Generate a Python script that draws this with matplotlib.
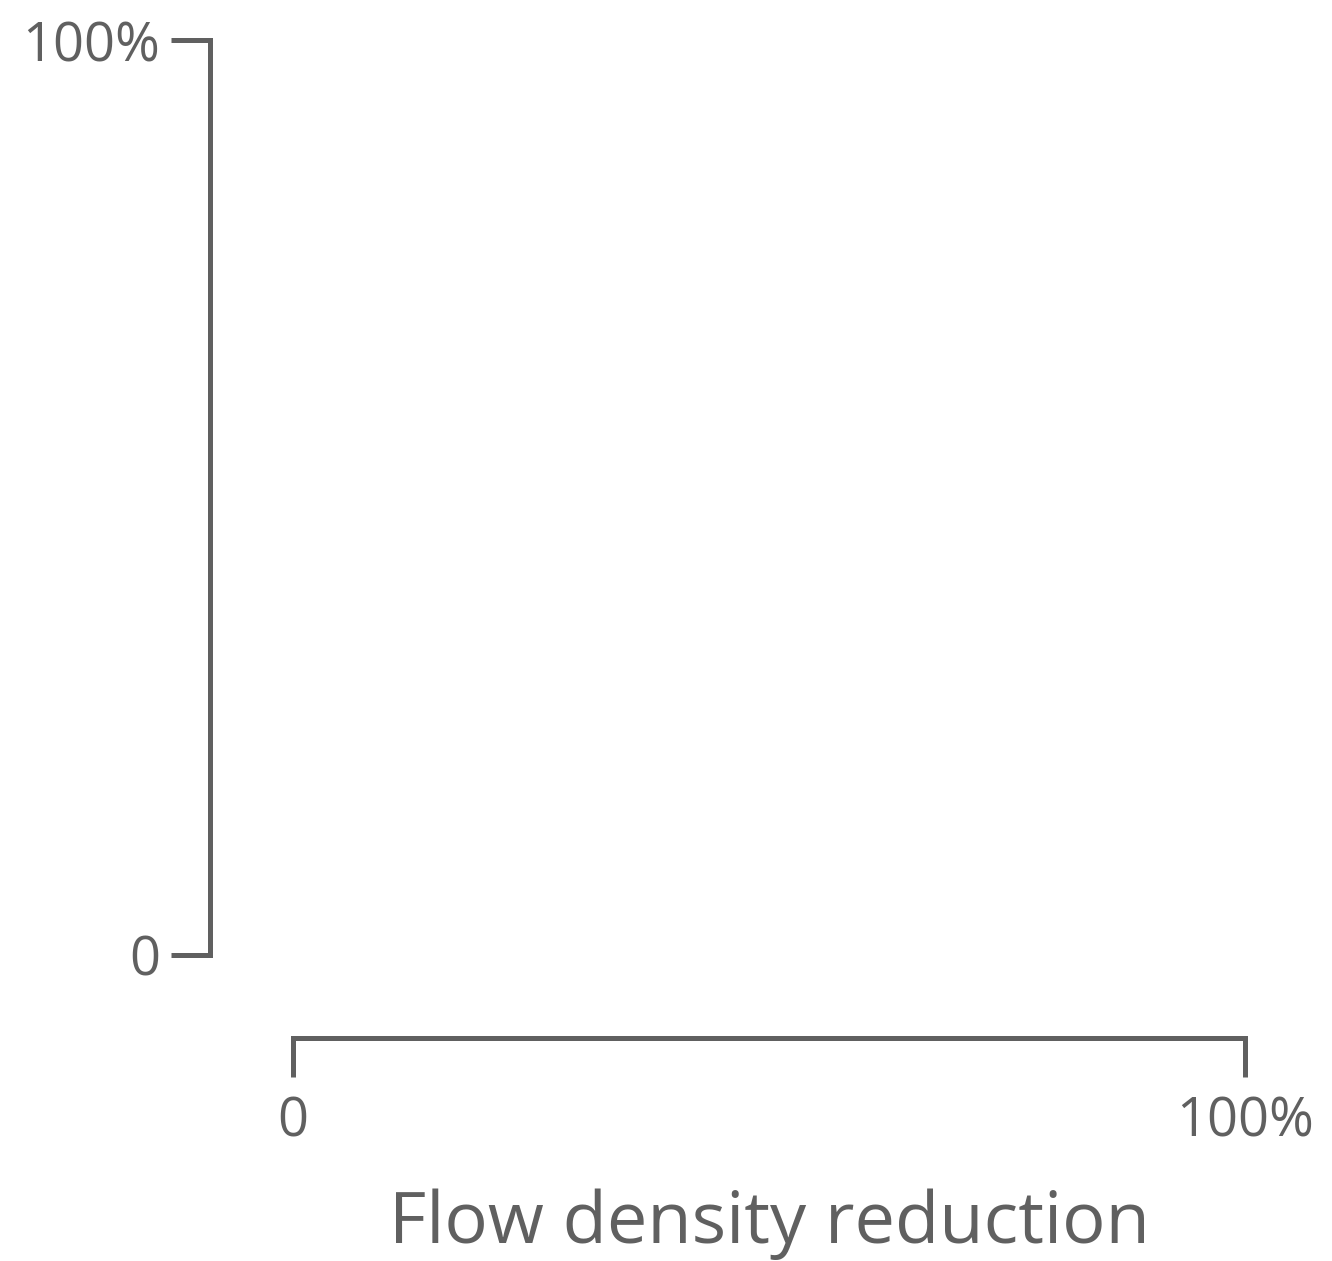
import matplotlib
matplotlib.use("Agg")
import matplotlib.pyplot as plt

# Axis scales (fractions) and their labels
x_ticks = [0.0, 1.0]
x_tick_labels = ["0", "100%"]
y_ticks = [0.0, 1.0]
y_tick_labels = ["0", "100%"]
x_label = "Flow density reduction"

INK = "#606060"
DPI = 100
W, H = 1332, 1261

plt.rcParams["font.family"] = ["Open Sans", "DejaVu Sans"]

fig = plt.figure(figsize=(W / DPI, H / DPI), dpi=DPI)
ax = fig.add_axes([293 / W, (H - 955) / H, (1245 - 293) / W, (955 - 40) / H])
ax.set_xlim(0, 1)
ax.set_ylim(0, 1)

for side in ("top", "right"):
    ax.spines[side].set_visible(False)
for side in ("left", "bottom"):
    sp = ax.spines[side]
    sp.set_position(("outward", 83 * 72 / DPI))
    sp.set_bounds(0, 1)
    sp.set_color(INK)
    sp.set_linewidth(3.6)
    sp.set_capstyle("projecting")

ax.set_xticks(x_ticks)
ax.set_xticklabels(x_tick_labels)
ax.set_yticks(y_ticks)
ax.set_yticklabels(y_tick_labels)
ax.tick_params(axis="both", colors=INK, width=3.6, length=28, labelsize=39)
ax.tick_params(axis="y", pad=8)
ax.tick_params(axis="x", pad=13)

ax.set_xlabel(x_label, fontsize=52, color=INK, labelpad=28)

fig.savefig("out.png", dpi=DPI, facecolor="white")
